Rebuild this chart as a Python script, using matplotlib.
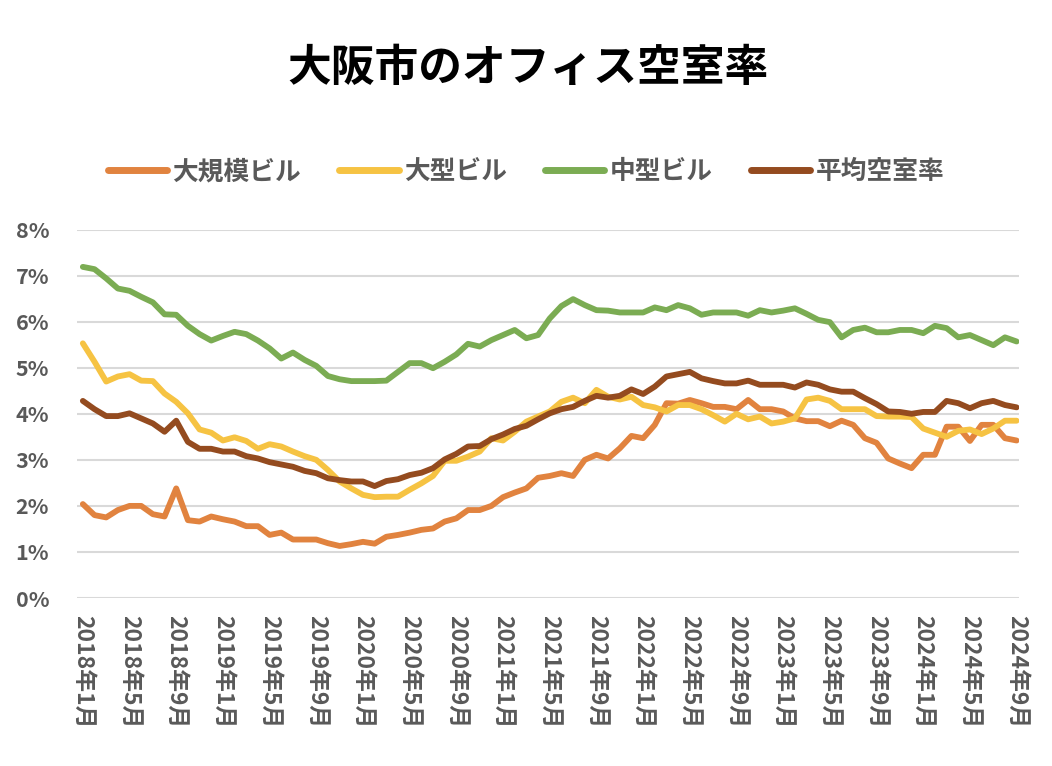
import matplotlib
matplotlib.use("Agg")
import matplotlib.pyplot as plt
from matplotlib.ticker import FuncFormatter, MultipleLocator

plt.rcParams["font.family"] = ["Noto Sans CJK JP", "DejaVu Sans"]

# monthly, 2018年1月 .. 2024年9月 (81 points), values in %
months = [f"{2018 + i // 12}年{i % 12 + 1}月" for i in range(81)]

large_scale = [  # 大規模ビル
    2.04, 1.80, 1.75, 1.91, 2.00, 2.00, 1.82, 1.77, 2.38, 1.69,
    1.66, 1.77, 1.71, 1.66, 1.56, 1.56, 1.37, 1.42, 1.27, 1.27,
    1.27, 1.19, 1.13, 1.17, 1.22, 1.18, 1.33, 1.37, 1.42, 1.48,
    1.51, 1.66, 1.73, 1.91, 1.91, 2.00, 2.19, 2.29, 2.38, 2.61,
    2.65, 2.71, 2.65, 3.00, 3.11, 3.03, 3.25, 3.52, 3.47, 3.76,
    4.23, 4.22, 4.30, 4.23, 4.15, 4.15, 4.10, 4.30, 4.10, 4.10,
    4.05, 3.90, 3.84, 3.84, 3.73, 3.85, 3.76, 3.47, 3.37, 3.03,
    2.92, 2.82, 3.11, 3.11, 3.72, 3.72, 3.41, 3.76, 3.76, 3.47,
    3.42,
]
large = [  # 大型ビル
    5.53, 5.13, 4.70, 4.81, 4.86, 4.72, 4.71, 4.44, 4.26, 4.01,
    3.66, 3.59, 3.42, 3.49, 3.41, 3.24, 3.34, 3.29, 3.18, 3.08,
    3.00, 2.78, 2.53, 2.38, 2.24, 2.19, 2.20, 2.20, 2.35, 2.49,
    2.65, 2.98, 2.98, 3.07, 3.18, 3.47, 3.42, 3.61, 3.83, 3.94,
    4.05, 4.26, 4.35, 4.23, 4.52, 4.37, 4.31, 4.37, 4.19, 4.14,
    4.05, 4.19, 4.19, 4.10, 3.97, 3.83, 4.00, 3.88, 3.94, 3.79,
    3.83, 3.90, 4.31, 4.35, 4.28, 4.10, 4.10, 4.10, 3.95, 3.94,
    3.94, 3.93, 3.68, 3.59, 3.50, 3.63, 3.66, 3.56, 3.68, 3.85,
    3.85,
]
medium = [  # 中型ビル
    7.19, 7.14, 6.94, 6.72, 6.67, 6.54, 6.42, 6.16, 6.15, 5.91,
    5.73, 5.59, 5.69, 5.78, 5.73, 5.59, 5.42, 5.20, 5.33, 5.17,
    5.04, 4.82, 4.75, 4.71, 4.71, 4.71, 4.72, 4.91, 5.10, 5.10,
    4.99, 5.13, 5.29, 5.52, 5.46, 5.60, 5.71, 5.82, 5.64, 5.71,
    6.07, 6.34, 6.49, 6.36, 6.25, 6.24, 6.20, 6.20, 6.20, 6.31,
    6.25, 6.36, 6.29, 6.15, 6.20, 6.20, 6.20, 6.13, 6.25, 6.20,
    6.24, 6.29, 6.17, 6.04, 5.99, 5.66, 5.82, 5.87, 5.77, 5.77,
    5.82, 5.82, 5.75, 5.91, 5.86, 5.66, 5.71, 5.60, 5.49, 5.66,
    5.57,
]
average = [  # 平均空室率
    4.28, 4.10, 3.95, 3.95, 4.01, 3.90, 3.79, 3.61, 3.85, 3.39,
    3.24, 3.24, 3.18, 3.18, 3.08, 3.03, 2.95, 2.90, 2.85, 2.76,
    2.71, 2.60, 2.56, 2.53, 2.53, 2.43, 2.54, 2.58, 2.67, 2.72,
    2.82, 3.01, 3.13, 3.29, 3.30, 3.45, 3.55, 3.67, 3.74, 3.88,
    4.01, 4.10, 4.15, 4.28, 4.39, 4.35, 4.39, 4.53, 4.43, 4.59,
    4.81, 4.86, 4.91, 4.77, 4.71, 4.66, 4.66, 4.72, 4.63, 4.63,
    4.63, 4.57, 4.68, 4.63, 4.53, 4.48, 4.48, 4.34, 4.21, 4.05,
    4.04, 4.00, 4.04, 4.04, 4.28, 4.23, 4.12, 4.23, 4.28, 4.19,
    4.14,
]

series = [
    ("大規模ビル", large_scale, "#E1833F"),
    ("大型ビル", large, "#F6C343"),
    ("中型ビル", medium, "#7BAC53"),
    ("平均空室率", average, "#944B1F"),
]
TEXT = "#595959"

fig = plt.figure(figsize=(10.52, 7.66), dpi=100)
ax = fig.add_axes([0.0732, 0.2193, 0.8954, 0.481])

xs = range(len(months))
for name, vals, color in series:
    ax.plot(xs, vals, color=color, lw=4.2, label=name, solid_capstyle="round",
            solid_joinstyle="round")

ax.set_ylim(0, 8)
ax.set_xlim(-0.5, 80.2)
ax.yaxis.set_major_locator(MultipleLocator(1))
ax.yaxis.set_major_formatter(FuncFormatter(lambda v, _: f"{v:.0f}%"))
ax.grid(axis="y", color="#D9D9D9", lw=1.5)
ax.set_axisbelow(True)
for s in ax.spines.values():
    s.set_visible(False)

tick_pos = list(range(0, 81, 4))
ax.set_xticks(tick_pos)
ax.set_xticklabels([months[i] for i in tick_pos], rotation=-90,
                   fontsize=16.5, fontweight="bold", color=TEXT)
ax.tick_params(axis="x", length=0, pad=12)
ax.tick_params(axis="y", length=0, pad=20, labelsize=15.5, labelcolor=TEXT)
for lab in ax.get_yticklabels():
    lab.set_fontweight("bold")

fig.text(0.502, 0.911, "大阪市のオフィス空室率", ha="center", va="center",
         fontsize=31.5, fontweight="bold", color="black")

leg = fig.legend(loc="center", bbox_to_anchor=(0.5, 0.7755), ncol=4,
                 frameon=False, handlelength=2.3, handletextpad=0.2,
                 columnspacing=1.5, prop={"size": 18.5, "weight": "bold"})
for t in leg.get_texts():
    t.set_color(TEXT)
for h in leg.get_lines():
    h.set_linewidth(5)

fig.savefig("out.png", dpi=100)
